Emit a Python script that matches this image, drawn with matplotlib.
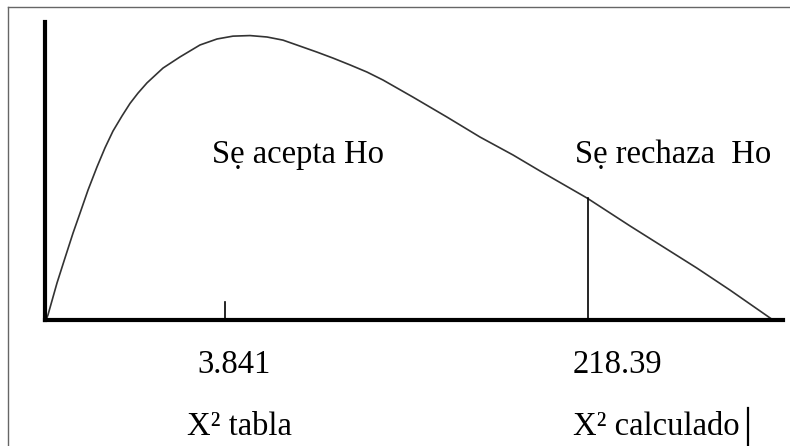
import matplotlib
matplotlib.use("Agg")
import matplotlib.pyplot as plt
import matplotlib.patheffects as pe
from matplotlib.lines import Line2D

plt.rcParams["font.family"] = ["Liberation Serif", "DejaVu Serif"]

# curve (x: 0..10 along the axis, y: peak = 1)
curve_x = [0.014, 0.041, 0.165, 0.275, 0.385, 0.481, 0.591, 0.714, 0.824,
           0.934, 1.058, 1.168, 1.277, 1.401, 1.621, 1.854, 2.129, 2.363,
           2.582, 2.816, 3.049, 3.269, 3.503, 3.736, 3.956, 4.190, 4.423,
           4.643, 5.055, 5.522, 5.975, 6.429, 6.799, 7.445, 8.036, 8.956,
           9.409, 10.000]
curve_y = [0.000, 0.018, 0.130, 0.218, 0.305, 0.375, 0.456, 0.537, 0.604,
           0.663, 0.716, 0.760, 0.796, 0.832, 0.884, 0.923, 0.965, 0.986,
           0.996, 0.998, 0.993, 0.982, 0.961, 0.940, 0.919, 0.895, 0.870,
           0.842, 0.782, 0.712, 0.642, 0.579, 0.523, 0.428, 0.330, 0.182,
           0.105, 0.000]

tabla_x = 2.47       # position of 3.841
calc_x = 7.46        # position of 218.39
calc_y = 0.428       # curve height at 218.39
values = ["3.841", "218.39"]
names = ["X² tabla", "X² calculado"]
regions = ["Sẹ acepta Ho", "Sẹ rechaza  Ho"]

W, H = 790, 446
fig = plt.figure(figsize=(W / 100, H / 100), dpi=100)
fig.patch.set_facecolor("white")

x0, y0 = 45, 320          # axis origin in pixels
sx, sy = 72.8, 285.0      # pixels per data unit
x_end, y_top = 783, 22
ax = fig.add_axes([x0 / W, (H - y0) / H, (x_end - x0) / W, (y0 - y_top) / H])
ax.set_xlim(0, (x_end - x0) / sx)
ax.set_ylim(0, (y0 - y_top) / sy)
ax.set_facecolor("none")
for s in ["top", "right"]:
    ax.spines[s].set_visible(False)
for s in ["left", "bottom"]:
    ax.spines[s].set_linewidth(3.0)
    ax.spines[s].set_color("black")
    ax.spines[s].set_capstyle("projecting")
    ax.spines[s].set_path_effects([pe.SimplePatchShadow(offset=(1.2, -1.5), alpha=0.25), pe.Normal()])
ax.set_xticks([])
ax.set_yticks([])

ax.plot(curve_x, curve_y, color="#333333", lw=1.2, clip_on=False,
        solid_joinstyle="round", solid_capstyle="round")
ax.plot([tabla_x, tabla_x], [0, 0.063], color="black", lw=1.2)
ax.plot([calc_x, calc_x], [0, calc_y], color="black", lw=1.2)

fs = 23.5
ax.text(2.29, 0.551, regions[0], fontsize=fs, va="baseline", ha="left")
ax.text(7.28, 0.551, regions[1], fontsize=fs, va="baseline", ha="left")
ax.text(2.09, -0.186, values[0], fontsize=fs, va="baseline", ha="left", clip_on=False)
ax.text(7.25, -0.186, values[1], fontsize=fs, va="baseline", ha="left", clip_on=False)
ax.text(1.95, -0.404, names[0], fontsize=fs, va="baseline", ha="left", clip_on=False)
ax.text(7.25, -0.404, names[1], fontsize=fs, va="baseline", ha="left", clip_on=False)

# outer frame (left and top edges) and the text cursor
fig.add_artist(Line2D([8 / W, 8 / W], [0, (H - 7) / H], color="#666666", lw=1.0))
fig.add_artist(Line2D([8 / W, 1], [(H - 7) / H, (H - 7) / H], color="#666666", lw=1.0))
fig.add_artist(Line2D([748 / W, 748 / W], [0, (H - 408) / H], color="black", lw=1.6))

fig.savefig("out.png", dpi=100)
